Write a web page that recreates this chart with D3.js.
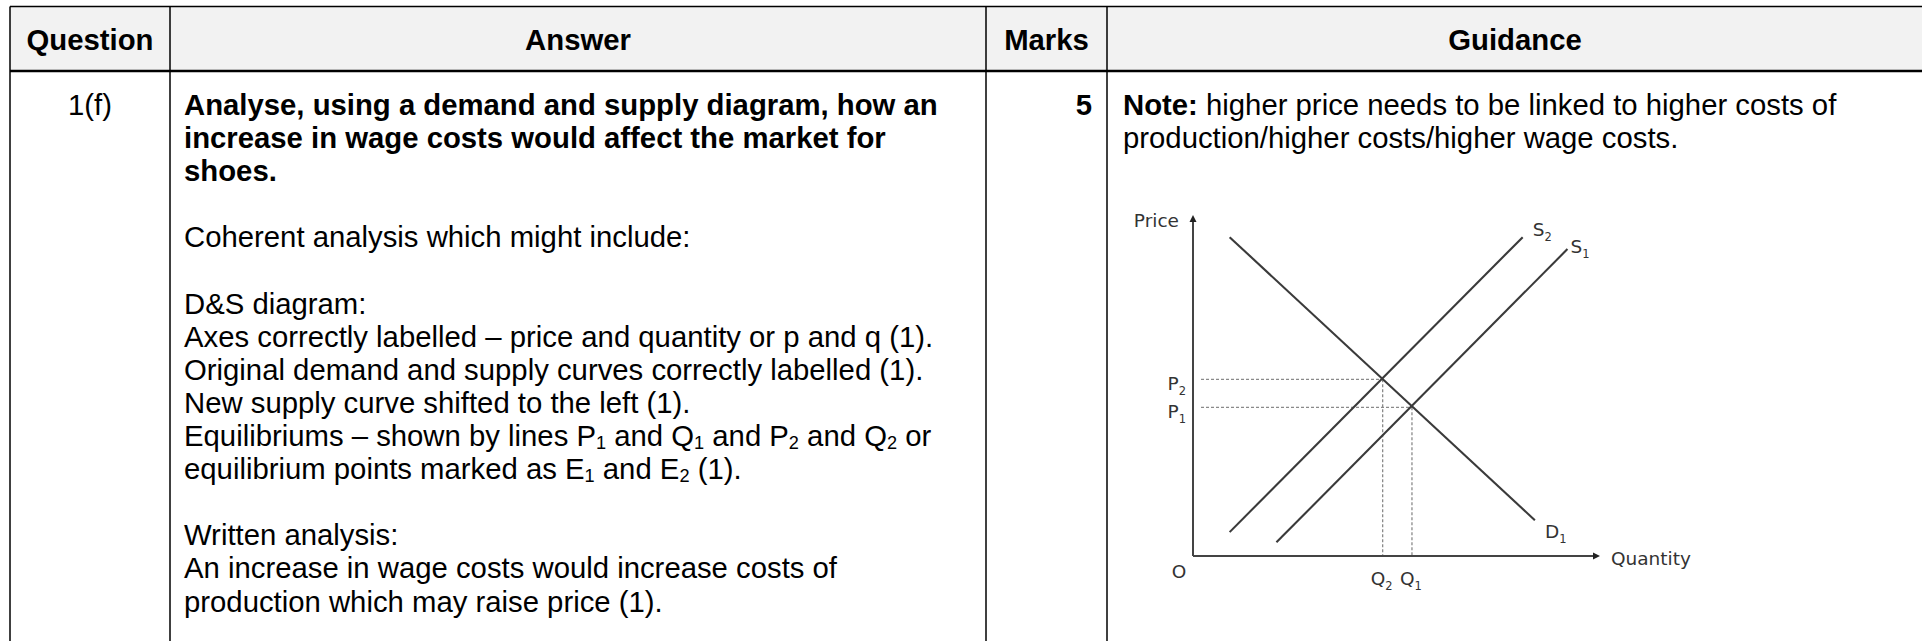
<!DOCTYPE html>
<html><head><meta charset="utf-8">
<script src="https://cdn.jsdelivr.net/npm/d3@7"></script>
<style>html,body{margin:0;padding:0;background:#fff;overflow:hidden}</style>
</head><body>
<svg id="c" width="1922" height="641"></svg>
<script>
// ---------- content ----------
const headers = ["Question", "Answer", "Marks", "Guidance"];
const questionLabels = ["1(f)"];
const marksValues = ["5"];
// each line: list of runs; b = bold, s = subscript; null = blank line
const answerLines = [
  [{t:"Analyse, using a demand and supply diagram, how an", b:true}],
  [{t:"increase in wage costs would affect the market for", b:true}],
  [{t:"shoes.", b:true}],
  null,
  [{t:"Coherent analysis which might include:"}],
  null,
  [{t:"D&S diagram:"}],
  [{t:"Axes correctly labelled \u2013 price and quantity or p and q (1)."}],
  [{t:"Original demand and supply curves correctly labelled (1)."}],
  [{t:"New supply curve shifted to the left (1)."}],
  [{t:"Equilibriums \u2013 shown by lines P"},{t:"1",s:true},{t:" and Q"},{t:"1",s:true},{t:" and P"},{t:"2",s:true},{t:" and Q"},{t:"2",s:true},{t:" or"}],
  [{t:"equilibrium points marked as E"},{t:"1",s:true},{t:" and E"},{t:"2",s:true},{t:" (1)."}],
  null,
  [{t:"Written analysis:"}],
  [{t:"An increase in wage costs would increase costs of"}],
  [{t:"production which may raise price (1)."}]
];
const guidanceLines = [
  [{t:"Note:", b:true},{t:" higher price needs to be linked to higher costs of"}],
  [{t:"production/higher costs/higher wage costs."}]
];

// ---------- diagram data (quantity, price on a 0-100 scale) ----------
const axisNames = ["Price", "Quantity"];
const originLabel = "O";
const demandD1 = [[9, 93.5], [84, 10.5]];
const supplyS1 = [[20.5, 4], [92, 90]];
const supplyS2 = [[9, 7], [81, 93.5]];
const curveNames = [["D", "1"], ["S", "1"], ["S", "2"]];
const equilibriumQ = [53.8, 46.6];   // Q1, Q2
const equilibriumP = [43.6, 51.8];   // P1, P2
const equilibriumIds = ["1", "2"];

// ---------- layout ----------
const L = {
  top: 6.5, headBottom: 71,
  cols: [10, 170, 986, 1107, 1923],
  firstBase: 115, lineH: 33.1, fs: 29.3,
  font: "'Liberation Sans', Arial, sans-serif",
  dfont: "'DejaVu Sans', Verdana, sans-serif", dfs: 18.5
};

const svg = d3.select("#c");

// header background
svg.append("rect").attr("x", L.cols[0]).attr("y", L.top)
  .attr("width", 1922 - L.cols[0]).attr("height", L.headBottom - L.top).attr("fill", "#f2f2f2");

// grid lines
svg.append("line").attr("x1", L.cols[0]).attr("x2", 1922).attr("y1", L.top).attr("y2", L.top)
  .attr("stroke", "#000").attr("stroke-width", 1.3);
svg.append("line").attr("x1", L.cols[0]).attr("x2", 1922).attr("y1", L.headBottom).attr("y2", L.headBottom)
  .attr("stroke", "#000").attr("stroke-width", 2.4);
L.cols.slice(0, 4).forEach(x => {
  svg.append("line").attr("x1", x).attr("x2", x).attr("y1", L.top).attr("y2", 641)
    .attr("stroke", "#000").attr("stroke-width", 1.5);
});

// header texts
headers.forEach((h, i) => {
  svg.append("text").attr("x", (L.cols[i] + L.cols[i + 1]) / 2).attr("y", 50)
    .attr("text-anchor", "middle").attr("font-family", L.font).attr("font-size", L.fs)
    .attr("font-weight", "bold").attr("fill", "#000").text(h);
});

svg.append("text").attr("x", (L.cols[0] + L.cols[1]) / 2).attr("y", L.firstBase)
  .attr("text-anchor", "middle").attr("font-family", L.font).attr("font-size", L.fs)
  .attr("fill", "#000").text(questionLabels[0]);
svg.append("text").attr("x", L.cols[3] - 15).attr("y", L.firstBase)
  .attr("text-anchor", "end").attr("font-family", L.font).attr("font-size", L.fs)
  .attr("font-weight", "bold").attr("fill", "#000").text(marksValues[0]);

function writeLines(lines, x0) {
  lines.forEach((runs, i) => {
    if (!runs) return;
    const t = svg.append("text").attr("x", x0).attr("y", L.firstBase + i * L.lineH)
      .attr("font-family", L.font).attr("font-size", L.fs).attr("fill", "#000")
      .attr("xml:space", "preserve").style("white-space", "pre");
    let shifted = false;
    runs.forEach(r => {
      const sp = t.append("tspan").text(r.t);
      if (r.b) sp.attr("font-weight", "bold");
      if (r.s) { sp.attr("font-size", L.fs * 0.62).attr("dy", 2.5); shifted = true; }
      else if (shifted) { sp.attr("dy", -2.5); shifted = false; }
    });
  });
}
writeLines(answerLines, 184);
writeLines(guidanceLines, 1123);

// ---------- diagram ----------
const x = d3.scaleLinear().domain([0, 100]).range([1193, 1600]);
const y = d3.scaleLinear().domain([0, 100]).range([556, 215]);
const g = svg.append("g");
const ink = "#3a3a3a";

// dashed guides
equilibriumQ.forEach((q, i) => {
  const p = equilibriumP[i];
  g.append("line").attr("x1", x(0) + 8).attr("x2", x(q)).attr("y1", y(p)).attr("y2", y(p))
    .attr("stroke", "#8a8a8a").attr("stroke-width", 1.3).attr("stroke-dasharray", "3,2");
  g.append("line").attr("x1", x(q)).attr("x2", x(q)).attr("y1", y(p)).attr("y2", y(0))
    .attr("stroke", "#8a8a8a").attr("stroke-width", 1.3).attr("stroke-dasharray", "3,2");
});

// axes
g.append("line").attr("x1", x(0)).attr("x2", x(0)).attr("y1", y(0)).attr("y2", y(100) + 3)
  .attr("stroke", "#444").attr("stroke-width", 2);
g.append("line").attr("x1", x(0)).attr("x2", x(100) - 3).attr("y1", y(0)).attr("y2", y(0))
  .attr("stroke", "#444").attr("stroke-width", 2);
g.append("path").attr("d", `M${x(0)},${y(100)} l-3.5,7 l7,0 z`).attr("fill", "#222");
g.append("path").attr("d", `M${x(100)},${y(0)} l-7,-3.5 l0,7 z`).attr("fill", "#222");

// curves
const line = d3.line().x(d => x(d[0])).y(d => y(d[1]));
[demandD1, supplyS1, supplyS2].forEach(c => {
  g.append("path").attr("d", line(c)).attr("fill", "none").attr("stroke", ink).attr("stroke-width", 2.1);
});

function label(px, py, base, sub, anchor) {
  const t = g.append("text").attr("x", px).attr("y", py).attr("font-family", L.dfont)
    .attr("font-size", L.dfs).attr("fill", "#333").attr("text-anchor", anchor || "start");
  t.append("tspan").text(base);
  if (sub) t.append("tspan").attr("font-size", L.dfs * 0.62).attr("dy", 5).text(sub);
  return t;
}
// curve labels
const ends = [demandD1[1], supplyS1[1], supplyS2[1]];
const offs = [[10, 18], [3, 4], [10, -1]];
curveNames.forEach((n, i) => label(x(ends[i][0]) + offs[i][0], y(ends[i][1]) + offs[i][1], n[0], n[1]));

// price / quantity labels
equilibriumIds.forEach((id, i) => {
  label(x(0) - 7, y(equilibriumP[i]) + 11, "P", id, "end");
  label(x(equilibriumQ[i]) - 1, y(0) + 29, "Q", id, "middle");
});
label(x(0) - 14, y(100) + 12, axisNames[0], null, "end");
label(x(100) + 11, y(0) + 9, axisNames[1], null, "start");
label(x(0) - 14, y(0) + 22, originLabel, null, "middle");
</script>
</body></html>
